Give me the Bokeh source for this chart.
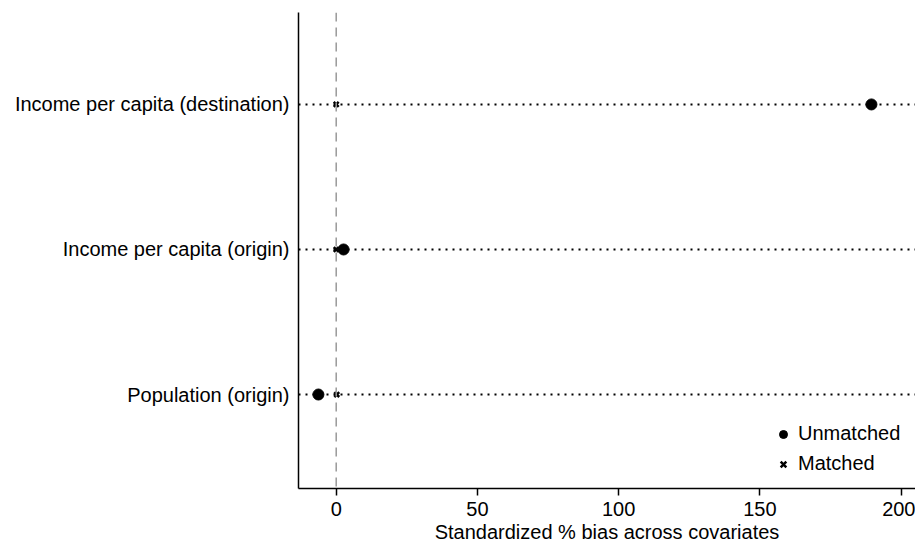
from bokeh.plotting import figure
from bokeh.models import Span, FixedTicker, Legend, LegendItem, ColumnDataSource
from bokeh.embed import file_html
from bokeh.resources import INLINE

# Data
variables = ["Population (origin)", "Income per capita (origin)", "Income per capita (destination)"]
unmatched = [-6.3, 2.6, 189.5]
matched = [0.2, 0.0, 0.0]
x_ticks = [0, 50, 100, 150, 200]

ypos = list(range(1, len(variables) + 1))
src = ColumnDataSource(dict(y=ypos, unmatched=unmatched, matched=matched))

FONT = "Liberation Sans"
FS = "20px"

p = figure(width=915, height=547, output_backend="svg", toolbar_location=None,
           x_range=(-13.35, 205.1), y_range=(0.352, 3.634),
           min_border_left=298, min_border_right=0, min_border_top=12, min_border_bottom=59)
p.outline_line_color = None
p.xgrid.grid_line_color = None
p.ygrid.grid_line_color = None
p.background_fill_color = "white"
p.border_fill_color = "white"

# dotted row lines
p.hspan(y="y", source=src, line_color="black", line_dash="2 5", line_width=2)

# zero line
p.add_layout(Span(location=0, dimension="height", line_color="#999999",
                  line_dash="9 6", line_width=1.5))

r_un = p.scatter(x="unmatched", y="y", source=src, marker="circle", size=11,
                 fill_color="black", line_color="black")
r_m = p.scatter(x="matched", y="y", source=src, marker="x", size=7,
                line_color="black", line_width=2.5)

# axes
p.xaxis.ticker = FixedTicker(ticks=x_ticks)
p.xaxis.minor_tick_line_color = None
p.xaxis.major_tick_out = 7
p.xaxis.major_tick_in = 0
p.xaxis.axis_line_width = 1.5
p.xaxis.major_tick_line_width = 1.5
p.xaxis.major_label_text_font = FONT
p.xaxis.major_label_text_font_size = FS
p.xaxis.major_label_text_color = "black"
p.xaxis.major_label_standoff = 6
p.xaxis.axis_label = "Standardized % bias across covariates"
p.xaxis.axis_label_text_font = FONT
p.xaxis.axis_label_text_font_size = FS
p.xaxis.axis_label_text_font_style = "normal"
p.xaxis.axis_label_text_color = "black"
p.xaxis.axis_label_standoff = 2

p.yaxis.ticker = FixedTicker(ticks=ypos)
p.yaxis.major_label_overrides = {y: v for y, v in zip(ypos, variables)}
p.yaxis.major_tick_line_color = None
p.yaxis.minor_tick_line_color = None
p.yaxis.axis_line_width = 1.5
p.yaxis.major_label_text_font = FONT
p.yaxis.major_label_text_font_size = FS
p.yaxis.major_label_text_color = "black"
p.yaxis.major_label_standoff = 3

legend = Legend(items=[LegendItem(label="Unmatched", renderers=[r_un]),
                       LegendItem(label="Matched", renderers=[r_m])],
                location=(475, 13), border_line_color=None, background_fill_alpha=0,
                label_text_font=FONT, label_text_font_size=FS, label_text_color="black",
                label_height=20, glyph_height=20, glyph_width=20, spacing=7,
                padding=10, margin=0, label_standoff=5)
p.add_layout(legend, "center")

open("out.html", "w").write(file_html(p, INLINE))
